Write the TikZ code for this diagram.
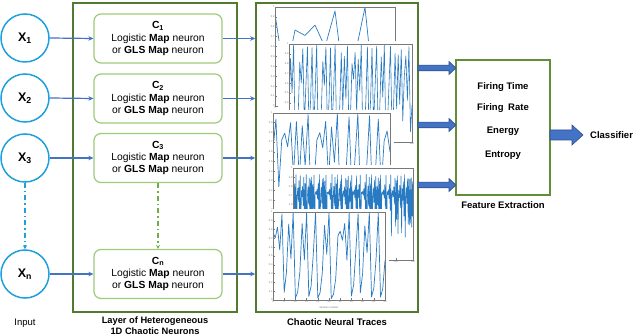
\documentclass[tikz,border=0pt]{standalone}
\usepackage{fontspec}
\setmainfont{Liberation Sans}
\usetikzlibrary{arrows.meta,calc}
\definecolor{circblue}{RGB}{30,160,220}
\definecolor{arrblue}{RGB}{68,114,196}
\definecolor{arrdark}{RGB}{47,82,143}
\definecolor{layergreen}{RGB}{82,122,48}
\definecolor{neurgreen}{RGB}{160,202,122}
\definecolor{dashgreen}{RGB}{112,173,71}
\definecolor{featgreen}{RGB}{98,142,58}
\definecolor{tracecol}{RGB}{40,122,195}
\definecolor{axisgray}{RGB}{120,120,120}
\tikzset{
  inp/.style={circle, draw=circblue, line width=1.5pt, minimum size=48pt, inner sep=0pt,
     font=\fontsize{12.5}{13}\selectfont\bfseries},
  neuron/.style={rectangle, rounded corners=7pt, draw=neurgreen, line width=1.2pt,
     minimum width=128pt, minimum height=49pt, align=center, inner sep=1pt,
     font=\fontsize{10.3}{12.4}\selectfont},
  bigbox/.style={rectangle, draw=layergreen, line width=1.5pt, inner sep=0pt},
  featbox/.style={rectangle, draw=featgreen, line width=1.2pt, inner sep=0pt},
  thinarr/.style={draw=arrblue, line width=1.2pt, -{Stealth[length=5pt,width=4.5pt]}},
  cyandash/.style={draw=circblue, line width=1.4pt, dash pattern=on 5pt off 3pt on 1.5pt off 3pt,
     -{Stealth[length=4pt,width=4pt]}},
  greendash/.style={draw=dashgreen, line width=1.4pt, dash pattern=on 5pt off 3pt on 1.5pt off 3pt,
     -{Stealth[length=4pt,width=4pt]}},
  fatarr/.style={fill=arrblue, draw=arrdark, line width=0.6pt},
  lbl/.style={font=\fontsize{9.5}{11}\selectfont\bfseries, align=center, inner sep=0pt},
  trace/.style={draw=tracecol, line join=round},
  axisline/.style={draw=axisgray, line width=0.4pt},
  ticklab/.style={font=\fontsize{2.6}{3}\selectfont, text=axisgray, inner sep=0.3pt},
}
% fat arrow: start, length, shaft half, head half, head length
\newcommand{\fatarrow}[5]{\draw[fatarr] (#1) ++(0,#3) -- ++({#2-#5},0) -- ++(0,{#4-#3}) -- ++(#5,{-#4}) -- ++({-#5},{-#4}) -- ++(0,{#4-#3}) -- ++({-(#2-#5)},0) -- cycle;}
% plot panel: x0 y0 x1 y1 n xinit r linewidth xlabels
\newcommand{\plotpanel}[9]{%
  \fill[white] ({#1-11},{#2-3}) rectangle ({#3+4},{#4+8});
  \global\edef\tkv{#6}%
  \pgfmathsetmacro\tkpy{#4-(#4-#2)*\tkv}%
  \xdef\tkpath{(#1,\tkpy)}%
  \foreach \i in {1,...,#5} {%
    \pgfmathsetmacro\tknv{#7*\tkv*(1-\tkv)}%
    \global\let\tkv\tknv
    \pgfmathsetmacro\tkpx{#1+(\i/#5)*(#3-#1)}%
    \pgfmathsetmacro\tkpy{#4-(#4-#2)*\tkv}%
    \xdef\tkpath{\tkpath -- (\tkpx,\tkpy)}%
  }%
  \begin{scope}
    \clip (#1,#2) rectangle (#3,#4);
    \draw[trace, line width=#8] \tkpath;
  \end{scope}
  \draw[axisline] (#1,#2) rectangle (#3,#4);
  \foreach \k/\lab in {0/0,1/0.1,2/0.2,3/0.3,4/0.4,5/0.5,6/0.6,7/0.7,8/0.8,9/0.9,10/1} {
    \draw[axisline] (#1,{#4-\k*(#4-#2)/10}) -- ++(1.5,0);
    \node[ticklab, anchor=east] at (#1,{#4-\k*(#4-#2)/10}) {\lab};
  }
  \foreach \f/\lab in {#9} {
    \draw[axisline] ({#1+\f*(#3-#1)},#4) -- ++(0,-1.5);
    \node[ticklab, anchor=north] at ({#1+\f*(#3-#1)},#4) {\lab};
  }
}
\begin{document}
\begin{tikzpicture}[x=1pt,y=-1pt]
\useasboundingbox[fill=white] (0,0) rectangle (640,336);

% containers
\node[bigbox, minimum width=164pt, minimum height=309pt] (layer) at (155,157.5) {};
\node[bigbox, minimum width=162pt, minimum height=309pt, fill=white] (traces) at (337,157.5) {};
\node[featbox, minimum width=94pt, minimum height=135pt] (feat) at (503,127.5) {};

% inputs
\node[inp] (x1) at (25,38) {X\textsubscript{1}};
\node[inp] (x2) at (25,98) {X\textsubscript{2}};
\node[inp] (x3) at (25,158) {X\textsubscript{3}};
\node[inp] (xn) at (25,274) {X\textsubscript{n}};

% neurons
\node[neuron] (c1) at (158,38.5) {\textbf{C\textsubscript{1}}\\Logistic \textbf{Map} neuron\\or \textbf{GLS Map} neuron};
\node[neuron] (c2) at (158,98.5) {\textbf{C\textsubscript{2}}\\Logistic \textbf{Map} neuron\\or \textbf{GLS Map} neuron};
\node[neuron] (c3) at (158,158) {\textbf{C\textsubscript{3}}\\Logistic \textbf{Map} neuron\\or \textbf{GLS Map} neuron};
\node[neuron] (cn) at (158,274) {\textbf{C\textsubscript{n}}\\Logistic \textbf{Map} neuron\\or \textbf{GLS Map} neuron};

% plots
\plotpanel{275}{7}{395}{106}{12}{0.93}{3.99}{0.7pt}{0/0,0.2/2,0.4/4,0.6/6,0.8/8,1/10}
\plotpanel{289}{44}{412}{142}{80}{0.31}{3.98}{0.6pt}{0/0,0.25/50,0.5/100,0.75/150,1/200}
\plotpanel{273}{113}{390}{210}{40}{0.62}{3.97}{0.7pt}{0/0,0.2/5,0.4/10,0.6/15,0.8/20,1/25}
\plotpanel{293}{168}{413}{260}{200}{0.41}{3.72}{0.6pt}{0/0,0.1429/20,0.2857/40,0.4286/60,0.5714/80,0.7143/100,0.8571/120,1/140}
\plotpanel{273}{212}{385}{300}{50}{0.77}{3.99}{0.7pt}{0/0,0.1/5,0.2/10,0.3/15,0.4/20,0.5/25,0.6/30,0.7/35,0.8/40,0.9/45,1/50}
\node[ticklab, anchor=north] (itn) at (329,306) {iteration number};

% connectors
\draw[thinarr] (x1.east) -- (c1.west);
\draw[thinarr] (x2.east) -- (c2.west);
\draw[thinarr] (x3.east) -- (c3.west);
\draw[thinarr] (xn.east) -- (cn.west);
\draw[thinarr] (c1.east) -- (c1.east -| traces.west);
\draw[thinarr] (c2.east) -- (c2.east -| traces.west);
\draw[thinarr] (c3.east) -- (c3.east -| traces.west);
\draw[thinarr] (cn.east) -- (cn.east -| traces.west);
\draw[cyandash] (x3.south) -- (xn.north);
\draw[greendash] (c3.south) -- (cn.north);

% fat arrows
\coordinate (fa1) at (418,68);
\coordinate (fa2) at (418,125);
\coordinate (fa3) at (418,185);
\coordinate (fa4) at (550,135);
\fatarrow{fa1}{38}{2.8}{6.5}{7}
\fatarrow{fa2}{38}{2.8}{6.5}{7}
\fatarrow{fa3}{38}{2.8}{6.5}{7}
\fatarrow{fa4}{33}{5}{10}{11}

% feature texts
\node[lbl] (f1) at (503,87) {Firing Time};
\node[lbl] (f2) at (503,108) {Firing\hspace{2pt} Rate};
\node[lbl] (f3) at (503,131) {Energy};
\node[lbl] (f4) at (503,155) {Entropy};
\node[lbl] (fe) at (503,205) {Feature Extraction};
\node[lbl, anchor=west] (cls) at (590,135) {Classifier};

% captions
\node[font=\fontsize{9.5}{11}\selectfont, inner sep=0pt] (inl) at (25,323) {Input};
\node[lbl, font=\fontsize{9.3}{11}\selectfont\bfseries] (lay) at (155,325.5) {Layer of Heterogeneous\\1D Chaotic Neurons};
\node[lbl] (tr) at (337,322) {Chaotic Neural Traces};
\end{tikzpicture}
\end{document}
